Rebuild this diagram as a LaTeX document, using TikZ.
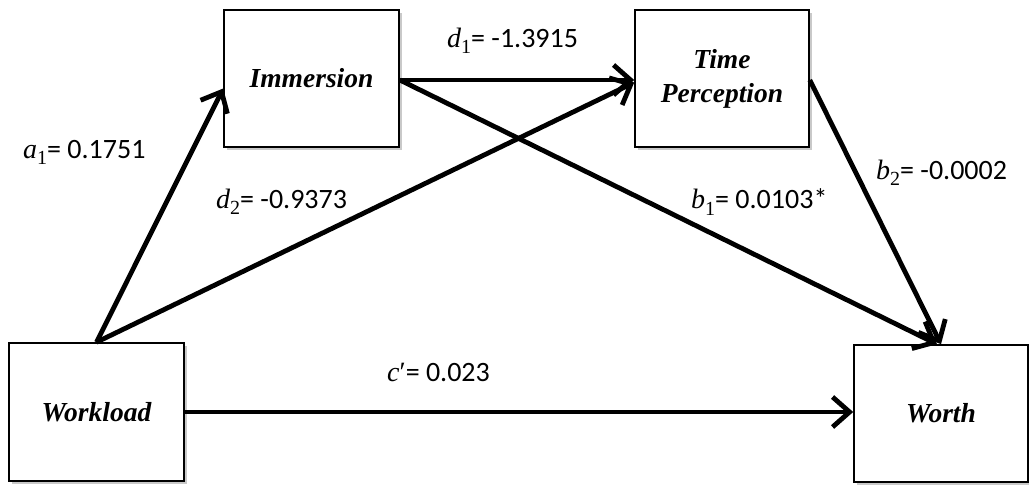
\documentclass[tikz,border=0pt]{standalone}
\usepackage{fontspec}
\setmainfont{Carlito}
\newfontfamily\boxfont{Liberation Serif}
\usetikzlibrary{arrows.meta,shadows}
\newcommand{\vr}[2]{{\boxfont\itshape #1}\raisebox{-0.22em}{\boxfont\fontsize{20}{20}\selectfont #2}}
\tikzset{
  varbox/.style={draw=black, line width=1.6pt, fill=white, align=center,
    font=\boxfont\fontsize{27.5}{34}\selectfont\bfseries\itshape,
    drop shadow={shadow xshift=3pt, shadow yshift=-3pt, fill=black!35, opacity=0.6}},
  path/.style={line width=4.8pt, -{Straight Barb[length=17pt,width=30pt,line width=4.8pt]}},
  lbl/.style={anchor=west, inner sep=0pt, font=\fontsize{28}{32}\selectfont}
}
\begin{document}
\begin{tikzpicture}[x=1pt,y=-1pt]
\useasboundingbox[fill=white] (0,0) rectangle (1029,485);
\node[varbox, minimum width=175pt, minimum height=137pt] (imm) at (311.5,78.5) {Immersion};
\node[varbox, minimum width=174pt, minimum height=137pt] (tp) at (722,78.5) {Time\\Perception};
\node[varbox, minimum width=175pt, minimum height=138pt] (wl) at (96.5,412) {Workload};
\node[varbox, minimum width=174pt, minimum height=137pt] (wo) at (941,413.5) {Worth};

\draw[path] (wl.north) -- ([yshift=-10pt]imm.west);
\draw[path] (wl.north) -- ([yshift=-4pt]tp.west);
\draw[path] ([yshift=-1.5pt]imm.east) -- ([yshift=-1.5pt]tp.west);
\draw[path] ([yshift=-1.5pt]imm.east) -- ([xshift=-4pt]wo.north);
\draw[path] ([yshift=-1.5pt]tp.east) -- (wo.north);
\draw[path] (wl.east) -- (wl.east -| wo.west);

\node[lbl] (la1) at (23,152) {\vr{a}{1}= 0.1751};
\node[lbl] (ld1) at (447,41) {\vr{d}{1}= -1.3915};
\node[lbl] (ld2) at (216,202) {\vr{d}{2}= -0.9373};
\node[lbl] (lb1) at (691,202) {\vr{b}{1}= 0.0103*};
\node[lbl] (lb2) at (876,173) {\vr{b}{2}= -0.0002};
\node[lbl] (lc) at (387,372) {{\boxfont\itshape c}{\boxfont ′}= 0.023};
\end{tikzpicture}
\end{document}
